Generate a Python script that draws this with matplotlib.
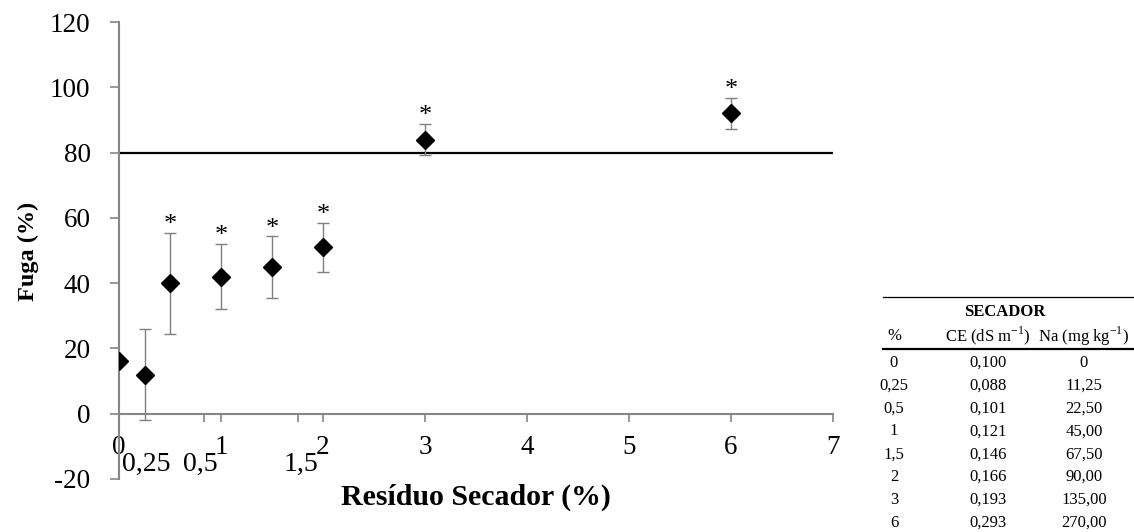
import numpy as np
import matplotlib.pyplot as plt

plt.rcParams['font.family'] = ['Liberation Serif', 'DejaVu Serif']

# dados
doses = [0, 0.25, 0.5, 1, 1.5, 2, 3, 6]
fuga = [16, 12, 40, 42, 44.8, 51, 84, 92]
erro = [0, 14, 15.5, 10, 9.5, 7.5, 4.7, 4.8]
signif = [False, False, True, True, True, True, True, True]
limite = 80

# tabela SECADOR
tab_pct = ['0', '0,25', '0,5', '1', '1,5', '2', '3', '6']
tab_ce = ['0,100', '0,088', '0,101', '0,121', '0,146', '0,166', '0,193', '0,293']
tab_na = ['0', '11,25', '22,50', '45,00', '67,50', '90,00', '135,00', '270,00']

# rotulos extras do eixo x (como no original)
extra_pos = [0.265, 0.80, 1.78]
extra_lab = ['0,25', '0,5', '1,5']

W, H = 1134, 532
fig = plt.figure(figsize=(W / 100, H / 100), dpi=100)
ax = fig.add_axes([119 / W, 53 / H, 714 / W, 457 / H])

ax.set_xlim(0, 7)
ax.set_ylim(-20, 120)

# linha de referencia 80%
ax.plot([0, 7], [limite, limite], color='black', lw=1.6, zorder=2)

ax.errorbar(doses, fuga, yerr=erro, fmt='D', color='black', ms=9,
            ecolor='#7f7f7f', elinewidth=1, capsize=4, capthick=1, zorder=3)

for x, y, e, s in zip(doses, fuga, erro, signif):
    if s:
        ax.text(x, y + e + 0.6, '*', ha='center', va='baseline', fontsize=19)

# eixos no estilo Excel
for sp in ['top', 'right']:
    ax.spines[sp].set_visible(False)
ax.spines['bottom'].set_position(('data', 0))
ax.spines['left'].set_position(('data', 0))
for sp in ['bottom', 'left']:
    ax.spines[sp].set_color('#868686')
    ax.spines[sp].set_linewidth(1.5)

ax.set_yticks(np.arange(-20, 121, 20))
ax.set_yticklabels([str(v) for v in range(-20, 121, 20)])
ax.set_xticks(range(0, 8))
ax.tick_params(axis='both', colors='#868686', labelcolor='black', labelsize=19.5,
               width=1.2, length=6.5)
ax.tick_params(axis='y', pad=14)
ax.tick_params(axis='x', pad=9, length=6)
ax.set_xticks([0.83, 1.75], minor=True)
ax.tick_params(axis='x', which='minor', colors='#868686', length=6, width=1.2)

for x, lab in zip(extra_pos, extra_lab):
    ax.text(x, -15.6, lab, ha='center', va='center', fontsize=20)

fig.text(28 / W, 1 - 251 / H, 'Fuga (%)', rotation=90, ha='center', va='center',
         fontsize=17.5, fontweight='bold')
fig.text(476 / W, 1 - 497 / H, 'Resíduo Secador (%)', ha='center', va='center',
         fontsize=21.5, fontweight='bold')

# tabela
cols = [894, 988, 1084]
fig.add_artist(plt.Line2D([883 / W, 1], [1 - 297 / H] * 2, color='black', lw=0.9))
fig.add_artist(plt.Line2D([883 / W, 1], [1 - 349 / H] * 2, color='black', lw=1.6))
fig.text(1005 / W, 1 - 312 / H, 'SECADOR', ha='center', va='center', fontsize=12,
         fontweight='bold')
heads = ['%', r'CE (dS m$^{\mathregular{-1}}$)', r'Na (mg kg$^{\mathregular{-1}}$)']
for cx, h in zip(cols, heads):
    fig.text(cx / W, 1 - 336 / H, h, ha='center', va='center', fontsize=12)
for i in range(len(tab_pct)):
    y = 1 - (363 + i * 22.8) / H
    for cx, v in zip(cols, [tab_pct[i], tab_ce[i], tab_na[i]]):
        fig.text(cx / W, y, v, ha='center', va='center', fontsize=12)

fig.savefig('out.png', dpi=100)
